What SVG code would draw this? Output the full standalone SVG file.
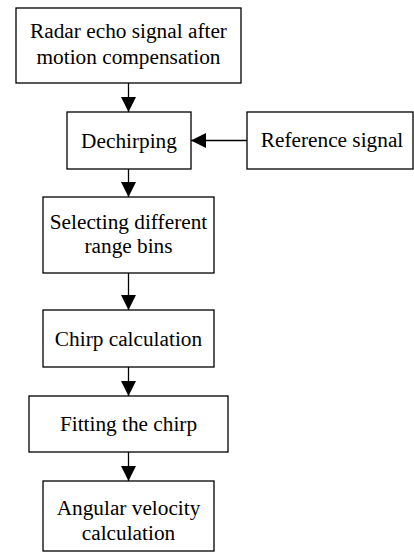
<svg xmlns="http://www.w3.org/2000/svg" width="414" height="553" viewBox="0 0 414 553">
<style>
.b{fill:#fff;stroke:#000;stroke-width:1.3}
.t{font-family:"Liberation Serif","Times New Roman",serif;font-size:21.3px;fill:#000;text-anchor:middle}
.c{stroke:#000;stroke-width:1.3;fill:none}
</style>
<defs>
<marker id="ah" markerUnits="userSpaceOnUse" markerWidth="16" markerHeight="16" refX="15" refY="7.5" orient="auto">
<path d="M0,0 L15,7.5 L0,15 Z" fill="#000"/>
</marker>
</defs>
<rect width="414" height="553" fill="#fff"/>
<g id="connectors">
<line class="c" x1="128.5" y1="83" x2="128.5" y2="112" marker-end="url(#ah)"/>
<line class="c" x1="247" y1="140.5" x2="191" y2="140.5" marker-end="url(#ah)"/>
<line class="c" x1="128.5" y1="169" x2="128.5" y2="197" marker-end="url(#ah)"/>
<line class="c" x1="128.5" y1="273" x2="128.5" y2="310" marker-end="url(#ah)"/>
<line class="c" x1="128.5" y1="367" x2="128.5" y2="396" marker-end="url(#ah)"/>
<line class="c" x1="128.5" y1="452" x2="128.5" y2="481" marker-end="url(#ah)"/>
</g>
<g id="radar">
<rect class="b" x="16" y="8" width="225" height="75"/>
<text class="t" x="128.5" y="38">Radar echo signal after</text>
<text class="t" x="128.5" y="64">motion compensation</text>
</g>
<g id="dechirping">
<rect class="b" x="67" y="112" width="124" height="57"/>
<text class="t" x="129" y="148">Dechirping</text>
</g>
<g id="reference">
<rect class="b" x="247" y="112" width="166" height="57"/>
<text class="t" x="332" y="147">Reference signal</text>
</g>
<g id="selecting">
<rect class="b" x="43" y="197" width="171" height="76"/>
<text class="t" x="128.5" y="229">Selecting different</text>
<text class="t" x="128.5" y="253">range bins</text>
</g>
<g id="chirpcalc">
<rect class="b" x="43" y="310" width="171" height="57"/>
<text class="t" x="128.5" y="346">Chirp calculation</text>
</g>
<g id="fitting">
<rect class="b" x="29" y="396" width="199" height="56"/>
<text class="t" x="128.5" y="431">Fitting the chirp</text>
</g>
<g id="angular">
<rect class="b" x="43" y="481" width="171" height="70"/>
<text class="t" x="128.5" y="515">Angular velocity</text>
<text class="t" x="128.5" y="540">calculation</text>
</g>
</svg>
